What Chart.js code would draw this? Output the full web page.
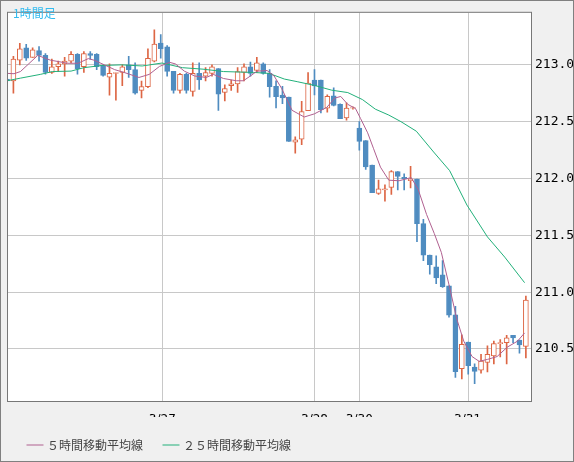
<!DOCTYPE html>
<html><head><meta charset="utf-8">
<script src="https://cdn.jsdelivr.net/npm/chart.js@4/dist/chart.umd.min.js"></script>
<style>
html,body{margin:0;padding:0;background:#f0f0f0;}
#wrap{position:relative;width:572px;height:460px;border:1px solid #808080;background:#f0f0f0;overflow:hidden;}
#title{position:absolute;left:12px;top:3px;font:12px "Noto Sans CJK JP";color:#33bbee;z-index:2;}
canvas{display:block;}
</style></head>
<body><div id="wrap"><div id="title">1時間足</div><canvas id="c" width="572" height="460"></canvas></div>
<script>
const opens=[212.875,212.858,213.042,213.15,213.066,213.125,213.083,212.933,212.983,213.008,213.033,213.092,212.983,213.1,213.092,212.995,212.892,212.925,212.933,213.0,212.958,212.775,212.808,213.033,213.192,213.158,212.942,212.775,212.917,212.767,212.925,212.9,212.925,212.967,212.758,212.817,212.833,212.933,212.983,212.95,213.008,212.925,212.81,212.733,212.716,212.32,212.347,212.597,212.866,212.866,212.619,212.727,212.652,212.533,212.619,212.444,212.333,212.119,211.869,211.9,211.922,212.06,212.01,211.98,211.994,211.603,211.325,211.222,211.152,211.055,210.8,210.327,210.56,210.341,210.314,210.381,210.439,210.547,210.555,210.619,210.577,210.522];
const closes=[212.858,213.05,213.142,213.058,213.133,213.083,212.933,212.983,213.008,213.033,213.092,212.967,213.1,213.083,212.983,212.908,212.925,212.933,212.983,212.958,212.75,212.808,213.058,213.183,213.142,212.942,212.775,212.917,212.775,212.925,212.867,212.933,212.983,212.742,212.792,212.833,212.941,212.983,212.925,213.017,212.925,212.808,212.72,212.71,212.327,212.34,212.589,212.839,212.814,212.605,212.722,212.644,212.527,212.619,212.625,212.327,212.102,211.875,211.908,211.91,212.06,212.019,211.996,211.995,211.603,211.325,211.241,211.125,211.047,210.797,210.3,210.541,210.352,210.302,210.394,210.452,210.547,210.555,210.597,210.597,210.536,210.931];
const highs=[212.917,213.075,213.19,213.18,213.15,213.16,213.1,213.05,213.033,213.066,213.117,213.1,213.117,213.117,213.1,213.0,213.008,212.933,213.0,213.075,213.017,212.858,213.142,213.308,213.267,213.17,212.942,212.925,212.925,213.017,213.017,212.975,213.0,212.967,212.825,212.867,212.975,213.008,213.025,213.067,213.017,212.958,212.86,212.81,212.716,212.366,212.68,212.931,212.958,212.866,212.736,212.797,212.658,212.666,212.63,212.5,212.333,212.119,211.985,211.944,212.069,212.06,212.04,212.106,211.994,211.64,211.325,211.319,211.277,211.055,210.875,210.625,210.56,210.369,210.452,210.527,210.569,210.583,210.619,210.619,210.577,210.966];
const lows=[212.667,212.75,213.0,213.04,213.066,213.033,212.917,212.925,212.942,212.9,213.017,212.917,212.933,213.05,212.958,212.9,212.733,212.69,212.817,212.89,212.742,212.708,212.8,213.025,213.058,212.9,212.75,212.75,212.75,212.725,212.783,212.858,212.9,212.6,212.683,212.775,212.758,212.858,212.9,212.933,212.917,212.716,212.62,212.658,212.327,212.222,212.297,212.597,212.736,212.577,212.583,212.639,212.527,212.513,212.61,212.25,212.08,211.875,211.86,211.8,211.86,211.9,211.9,211.917,211.444,211.277,211.158,211.075,211.041,210.78,210.25,210.236,210.277,210.194,210.286,210.297,210.369,210.43,210.369,210.555,210.463,210.422];
const ma5X=[0,1.1,2.1,4.8,6.8,9.5,11.1,12.7,13.6,15.2,16.8,18.4,20.6,22.2,23.8,25.4,26.3,27.7,29.3,31.1,32.2,33.8,35.8,36.9,38,39,40.6,41.7,42.9,44.5,46.4,48,49.9,51.2,52.1,53.2,54.4,55.2,56.3,57.2,58.3,59.6,61.2,63.1,64.2,65.5,66.7,67.8,69.1,70.2,71.3,72.6,73.7,75,76.5,78.1,79.7,80.8];
const ma5Y=[212.925,212.922,212.941,213.083,213.041,213.014,213.014,213.055,213.041,213.0,212.958,212.931,212.889,212.916,212.986,213.022,213.008,212.944,212.902,212.889,212.916,212.88,212.86,212.86,212.902,212.944,212.95,212.902,212.79,212.6,212.541,212.569,212.625,212.708,212.722,212.652,212.616,212.527,212.402,212.266,212.1,211.985,211.98,212.008,211.902,211.683,211.516,211.35,211.041,210.766,210.569,210.433,210.391,210.408,210.433,210.516,210.569,210.641];
const ma25X=[0,2.1,5.2,7.1,10,12,14.7,17.9,21.1,24.2,27.4,30.6,33.8,38.5,40.9,43.3,45.3,48,50.7,53.2,55.5,57.5,59.6,61.5,63.9,66.6,69.1,71.8,75,77.7,80.8];
const ma25Y=[212.86,212.883,212.916,212.941,212.945,212.975,212.994,213.0,212.99,213.016,212.975,212.962,212.941,212.933,212.925,212.875,212.852,212.819,212.777,212.756,212.694,212.61,212.558,212.5,212.416,212.233,212.069,211.766,211.486,211.308,211.083];
const yTicks=[210.5,211.0,211.5,212.0,212.5,213.0];
const xTickPos=[24.25,48.0,55.0,71.9];
const xTickLabels=['3/27','3/28','3/30','3/31'];
const legendLabels=['５時間移動平均線','２５時間移動平均線'];

const RED='#dd6644',BLUE='#4f8cc0',GREEN='#22b07a',PURPLE='#b06090';
const up=opens.map((o,i)=>closes[i]>=o);
const bodies=opens.map((o,i)=>({x:i,y:[Math.min(o,closes[i]),Math.max(o,closes[i])+(Math.abs(o-closes[i])<0.006?0.006:0)]}));
const wicks=highs.map((h,i)=>({x:i,y:[lows[i],h]}));
const bg={id:'bg',beforeDraw(c){const a=c.chartArea,x=c.ctx;x.save();x.fillStyle='#fff';x.fillRect(a.left,a.top,a.right-a.left,a.bottom-a.top);x.restore();},
beforeDatasetsDraw(c){const a=c.chartArea,x=c.ctx,s=c.scales.x;x.save();x.strokeStyle='#c8c8c8';x.lineWidth=1;
 xTickPos.forEach(v=>{const px=Math.round(s.getPixelForValue(v))+0.5;x.beginPath();x.moveTo(px,a.top);x.lineTo(px,a.bottom);x.stroke();});x.restore();},
afterDraw(c){const a=c.chartArea,x=c.ctx;x.save();x.strokeStyle='#777';x.lineWidth=1;x.strokeRect(a.left+0.5,a.top-0.5,a.right-a.left,a.bottom-a.top+1);x.restore();}};
new Chart(document.getElementById('c'),{
type:'bar',
data:{datasets:[
{type:'line',label:legendLabels[0],data:ma5X.map((x,i)=>({x,y:ma5Y[i]})),borderColor:PURPLE,backgroundColor:PURPLE,borderWidth:1,pointRadius:0,tension:0,order:1},
{type:'line',label:legendLabels[1],data:ma25X.map((x,i)=>({x,y:ma25Y[i]})),borderColor:GREEN,backgroundColor:GREEN,borderWidth:1,pointRadius:0,tension:0,order:1},
{label:'body',data:bodies,backgroundColor:up.map(u=>u?'#fff':BLUE),borderColor:up.map(u=>u?RED:BLUE),borderWidth:1,borderSkipped:false,barThickness:5,grouped:false,order:2},
{label:'wick',data:wicks,backgroundColor:up.map(u=>u?RED:BLUE),borderWidth:0,barThickness:1,grouped:false,order:3}
]},
options:{responsive:false,animation:false,devicePixelRatio:1,
layout:{padding:{left:6,top:-14,right:-8,bottom:0}},
scales:{
x:{type:'linear',min:0,max:81.8,offset:false,
 afterBuildTicks(s){s.ticks=xTickPos.map(v=>({value:v}));},
 ticks:{autoSkip:false,maxRotation:0,color:'#000',font:{family:'DejaVu Sans',size:12},padding:4,callback:(v,i)=>xTickLabels[i]},
 grid:{display:false},border:{display:false},afterFit(s){s.height=16;}},
y:{position:'right',min:210.042,max:213.458,
 afterBuildTicks(s){s.ticks=yTicks.map(v=>({value:v}));},
 ticks:{color:'#000',font:{family:'DejaVu Sans Mono',size:13},padding:4,callback:v=>v.toFixed(1)},
 grid:{color:'#c8c8c8',drawTicks:false},border:{display:false},afterFit(s){s.width=50;}}
},
plugins:{tooltip:{enabled:false},
legend:{position:'bottom',align:'start',
 labels:{filter:it=>it.datasetIndex<2,usePointStyle:true,pointStyle:'line',boxWidth:14,color:'#444',font:{family:'Noto Sans CJK JP',size:12},padding:22}}}
},
plugins:[bg]});
</script></body></html>
